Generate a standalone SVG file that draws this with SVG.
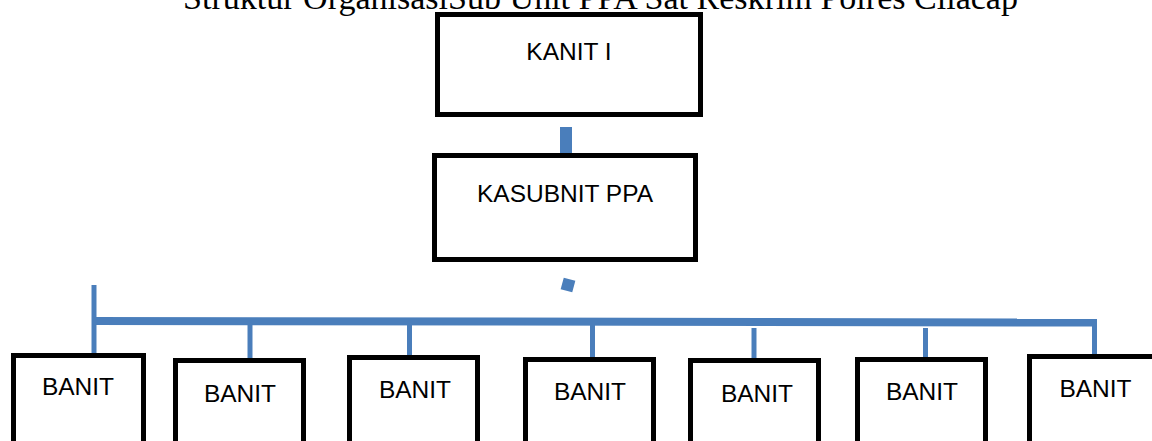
<svg xmlns="http://www.w3.org/2000/svg" width="1152" height="441" viewBox="0 0 1152 441">
<style>
.box{fill:#fff;stroke:#000;stroke-width:5}
.lbl{font-family:"Liberation Sans",Arial,sans-serif;font-size:24.5px;fill:#000;text-anchor:middle}
.ttl{font-family:"Liberation Serif","Times New Roman",serif;font-size:34px;fill:#000}
.con{stroke:#4A7EBB;fill:none}
</style>
<rect width="1152" height="441" fill="#fff"/>
<text class="ttl" x="183" y="9" textLength="835" lengthAdjust="spacingAndGlyphs">Struktur OrganisasiSub Unit PPA Sat Reskrim Polres Cilacap</text>
<g id="connectors">
<rect x="560" y="127" width="12" height="26" fill="#4A7EBB"/>
<rect x="562" y="279" width="12" height="12" fill="#4A7EBB" transform="rotate(15 568 285)"/>
<line class="con" x1="92" y1="321" x2="1097" y2="322.5" stroke-width="8"/>
<line class="con" x1="94" y1="285" x2="94" y2="354" stroke-width="5"/>
<line class="con" x1="250" y1="321" x2="250" y2="359" stroke-width="5"/>
<line class="con" x1="409.5" y1="321" x2="409.5" y2="356" stroke-width="5"/>
<line class="con" x1="592.5" y1="321" x2="592.5" y2="358" stroke-width="5"/>
<line class="con" x1="754" y1="328" x2="754" y2="359" stroke-width="5"/>
<line class="con" x1="925.5" y1="328" x2="925.5" y2="358" stroke-width="5"/>
<line class="con" x1="1094.5" y1="321" x2="1094.5" y2="356" stroke-width="5"/>
</g>
<g id="kanit"><rect class="box" x="437.5" y="14.5" width="263" height="100"/><text class="lbl" x="569" y="60">KANIT I</text></g>
<g id="kasubnit"><rect class="box" x="434.5" y="155.5" width="261" height="104"/><text class="lbl" x="565" y="202">KASUBNIT PPA</text></g>
<g id="banit1"><rect class="box" x="13.5" y="355.5" width="130" height="100"/><text class="lbl" x="78" y="395">BANIT</text></g>
<g id="banit2"><rect class="box" x="175.5" y="360.5" width="128" height="100"/><text class="lbl" x="240" y="402">BANIT</text></g>
<g id="banit3"><rect class="box" x="349.5" y="357.5" width="128" height="100"/><text class="lbl" x="415" y="398">BANIT</text></g>
<g id="banit4"><rect class="box" x="525.5" y="359.5" width="128" height="100"/><text class="lbl" x="590" y="400">BANIT</text></g>
<g id="banit5"><rect class="box" x="690.5" y="360.5" width="128" height="100"/><text class="lbl" x="757" y="402">BANIT</text></g>
<g id="banit6"><rect class="box" x="857.5" y="359.5" width="128" height="100"/><text class="lbl" x="922" y="400">BANIT</text></g>
<g id="banit7"><rect class="box" x="1029.5" y="356.5" width="128" height="100"/><text class="lbl" x="1095.5" y="397">BANIT</text></g>
</svg>
